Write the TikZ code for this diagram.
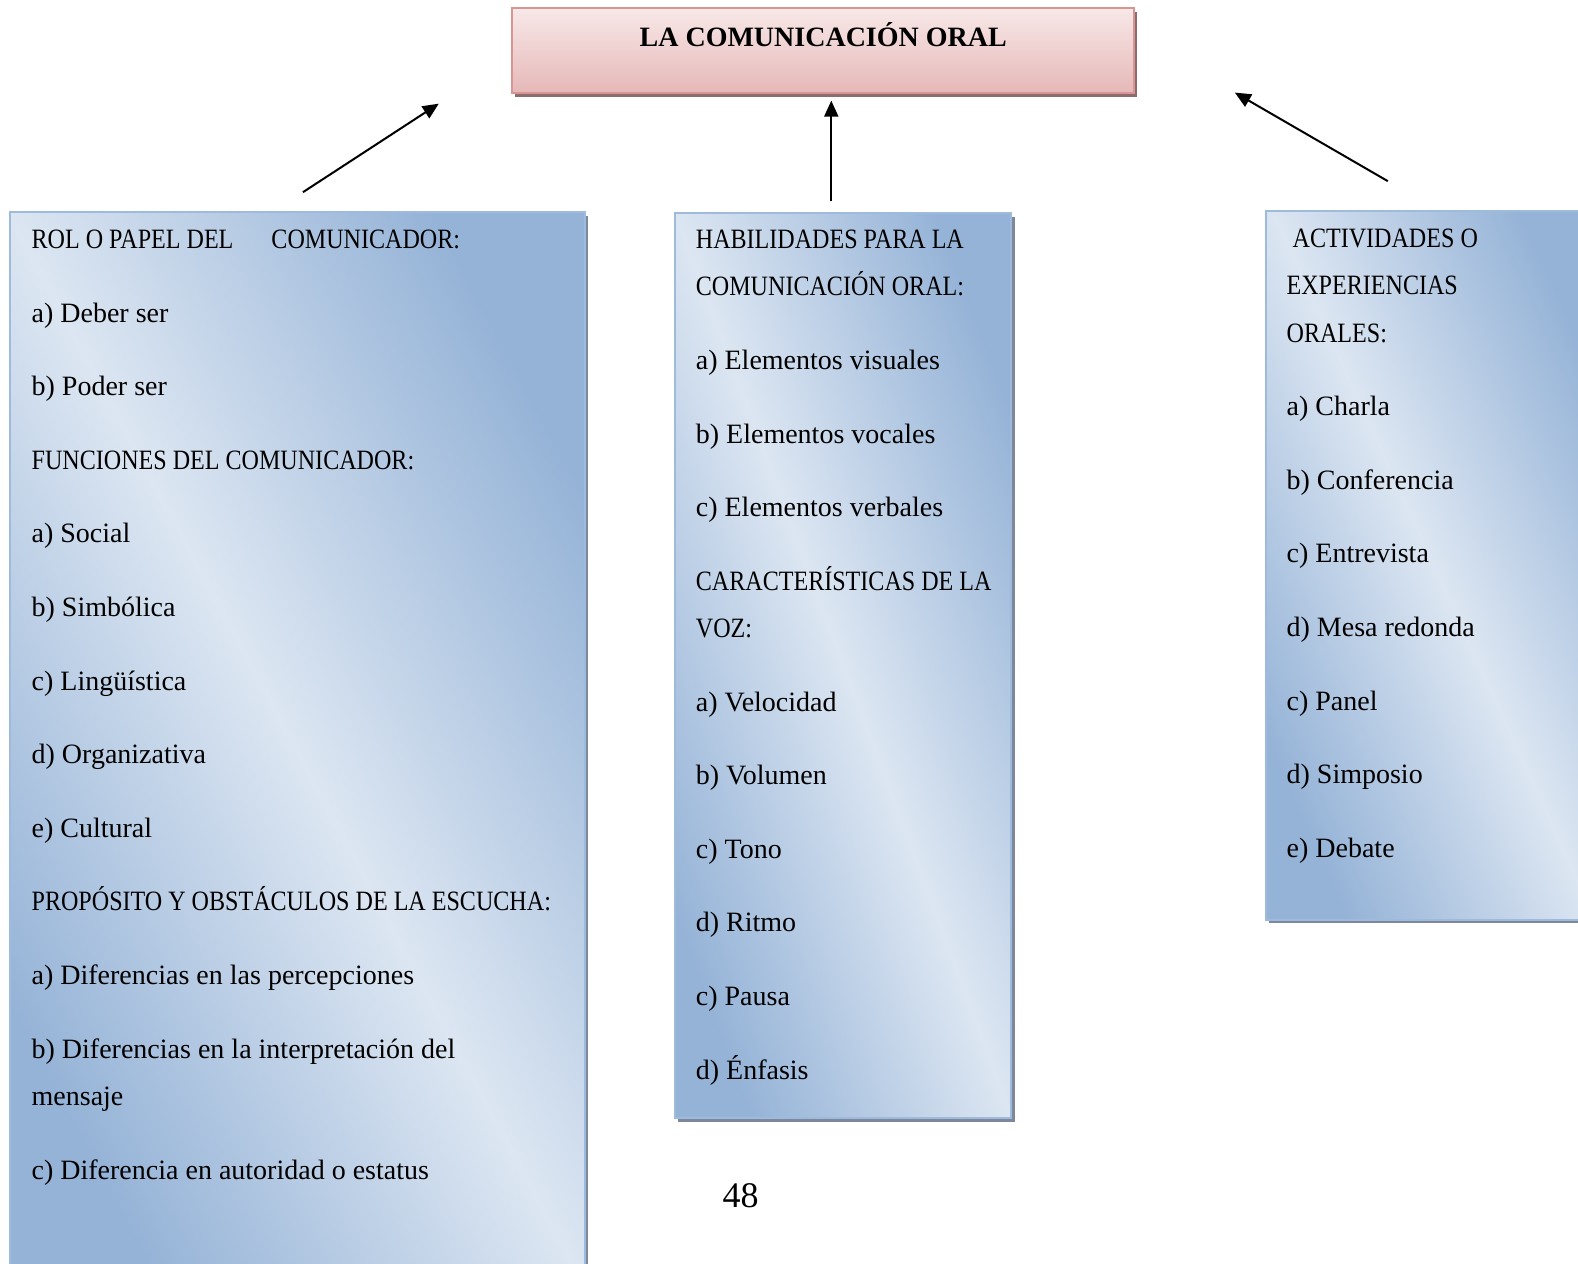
\documentclass[tikz,border=0pt]{standalone}
\usepackage{fontspec}
\setmainfont{Liberation Serif}
\usetikzlibrary{arrows.meta,positioning,shadows}
\newcommand{\mayus}[1]{{\addfontfeature{FakeStretch=0.86}#1}}

\begin{document}
\begin{tikzpicture}[x=0.50319pt,y=-0.50319pt]
            \definecolor{azulosc}{RGB}{149,179,215}
            \definecolor{azulcla}{RGB}{220,230,242}
            \definecolor{bordeazul}{RGB}{158,186,221}
            \definecolor{sombraazul}{RGB}{125,136,155}
            \definecolor{rosacla}{RGB}{248,232,232}
            \definecolor{rosaosc}{RGB}{229,184,183}
            \definecolor{borderosa}{RGB}{217,149,148}
            \definecolor{sombrarosa}{RGB}{140,108,108}
            \tikzstyle{cuadro} = [rectangle, anchor=north west,
            draw=bordeazul, line width=1pt,
            top color=azulosc, bottom color=azulosc, middle color=azulcla,
            drop shadow={shadow xshift=1.6pt, shadow yshift=-1.8pt, fill=sombraazul, opacity=1},
            inner sep=0pt]
            \tikzstyle{lista} = [anchor=base west, inner sep=0pt,
            font=\fontsize{14pt}{23.65pt}\selectfont]
            \tikzstyle{titulo} = [rectangle, anchor=north,
            draw=borderosa, line width=1pt,
            top color=rosacla, bottom color=rosaosc,
            drop shadow={shadow xshift=1.6pt, shadow yshift=-2pt, fill=sombrarosa, opacity=1},
            inner ysep=0pt, minimum width=311pt,
            text height=19.3pt, text depth=23.4pt,
            font=\fontsize{14pt}{16pt}\selectfont\bfseries]
            \tikzstyle{flecha} = [line width=1pt,-{Triangle[length=8pt,width=7pt]}]

            \useasboundingbox (0,0) rectangle (1568,1255);

            \node (tema)[titulo] at (818,7) {LA COMUNICACIÓN ORAL};

            \node (rol)[cuadro, minimum width=287.3pt, minimum height=540pt, shading angle=-61.8] at (9,210) {};
            \node (habilidades)[cuadro, minimum width=168.1pt, minimum height=452.4pt, shading angle=-69.6] at (670,211) {};
            \node (actividades)[cuadro, minimum width=167.6pt, minimum height=354.2pt, shading angle=-65.5] at (1257,209) {};

            \node (roltexto)[lista] at ([xshift=11.1pt,yshift=-18.6pt]rol.north west)
            {\parbox[t]{300pt}{\raggedright
            \mayus{ROL O PAPEL DEL\hspace{16pt} COMUNICADOR:}\\[13.15pt]
            a) Deber ser\\[13.15pt]
            b) Poder ser\\[13.15pt]
            \mayus{FUNCIONES DEL COMUNICADOR:}\\[13.15pt]
            a) Social\\[13.15pt]
            b) Simbólica\\[13.15pt]
            c) Lingüística\\[13.15pt]
            d) Organizativa\\[13.15pt]
            e) Cultural\\[13.15pt]
            \mayus{PROPÓSITO Y OBSTÁCULOS DE LA ESCUCHA:}\\[13.15pt]
            a) Diferencias en las percepciones\\[13.15pt]
            b) Diferencias en la interpretación del\\
            mensaje\\[13.15pt]
            c) Diferencia en autoridad o estatus}};

            \node (habtexto)[lista] at ([xshift=10.6pt,yshift=-18.1pt]habilidades.north west)
            {\parbox[t]{200pt}{\raggedright
            \mayus{HABILIDADES PARA LA}\\
            \mayus{COMUNICACIÓN ORAL:}\\[13.15pt]
            a) Elementos visuales\\[13.15pt]
            b) Elementos vocales\\[13.15pt]
            c) Elementos verbales\\[13.15pt]
            \mayus{CARACTERÍSTICAS DE LA}\\
            \mayus{VOZ:}\\[13.15pt]
            a) Velocidad\\[13.15pt]
            b) Volumen\\[13.15pt]
            c) Tono\\[13.15pt]
            d) Ritmo\\[13.15pt]
            c) Pausa\\[13.15pt]
            d) Énfasis}};

            \node (acttexto)[lista] at ([xshift=10.6pt,yshift=-18.6pt]actividades.north west)
            {\parbox[t]{200pt}{\raggedright
            \mayus{\hspace*{3pt}ACTIVIDADES O}\\
            \mayus{EXPERIENCIAS}\\
            \mayus{ORALES:}\\[13.15pt]
            a) Charla\\[13.15pt]
            b) Conferencia\\[13.15pt]
            c) Entrevista\\[13.15pt]
            d) Mesa redonda\\[13.15pt]
            c) Panel\\[13.15pt]
            d) Simposio\\[13.15pt]
            e) Debate}};

            \node (pagina) at (736,1188) {\fontsize{18pt}{20pt}\selectfont 48};

            % extremos de las flechas
            \coordinate (rolpunta) at (301,191);
            \coordinate (temaizq) at (436,103);
            \coordinate (habpunta) at (826,200);
            \coordinate (temacentro) at (826,100);
            \coordinate (actpunta) at (1379,180);
            \coordinate (temader) at (1227,92);

            \draw [flecha] (rolpunta) -- (temaizq);
            \draw [flecha] (habpunta) -- (temacentro);
            \draw [flecha] (actpunta) -- (temader);
        \end{tikzpicture}
\end{document}
